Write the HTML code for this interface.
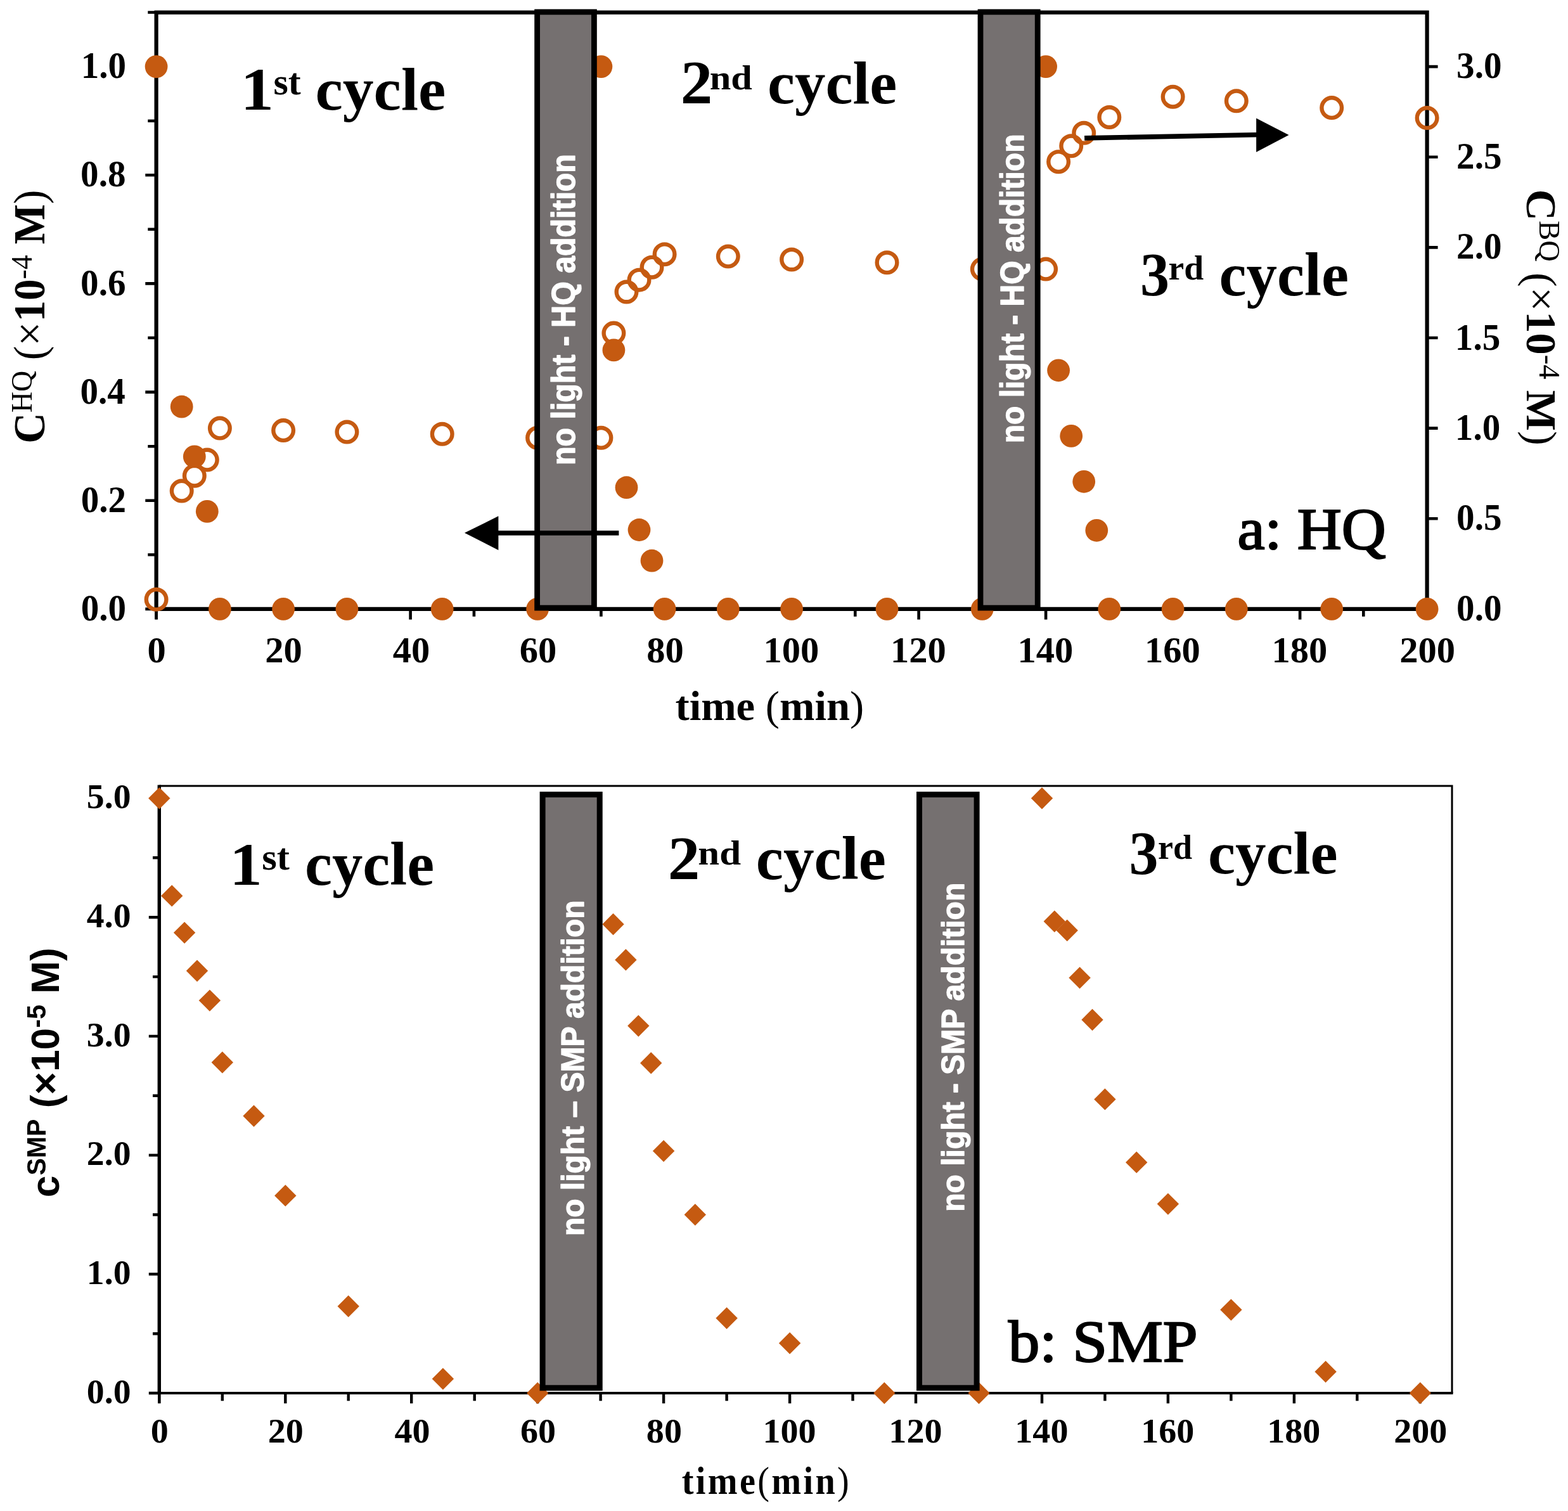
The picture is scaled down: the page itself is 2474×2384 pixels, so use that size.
<!DOCTYPE html>
<html><head><meta charset="utf-8"><title>chart</title><style>html,body{margin:0;padding:0;background:#fff;width:2474px;height:2384px;overflow:hidden}svg{display:block}</style></head><body>
<svg width="2474" height="2384" viewBox="0 0 2474 2384">
<rect width="2474" height="2384" fill="#fff"/>
<path d="M229.3,960.9H246.6M233.3,875.3H246.6M229.3,789.7H246.6M233.3,704.2H246.6M229.3,618.6H246.6M233.3,533.0H246.6M229.3,447.4H246.6M233.3,361.8H246.6M229.3,276.3H246.6M233.3,190.7H246.6M229.3,105.1H246.6M233.3,19.5H246.6M2251.6,960.9H2268.6M2251.6,818.3H2268.6M2251.6,675.6H2268.6M2251.6,533.0H2268.6M2251.6,390.4H2268.6M2251.6,247.7H2268.6M2251.6,105.1H2268.6M246.6,960.9V977.6M346.9,960.9V972.8M447.1,960.9V977.6M547.4,960.9V972.8M647.6,960.9V977.6M747.9,960.9V972.8M848.1,960.9V977.6M948.4,960.9V972.8M1048.6,960.9V977.6M1148.8,960.9V972.8M1249.1,960.9V977.6M1349.3,960.9V972.8M1449.6,960.9V977.6M1549.8,960.9V972.8M1650.1,960.9V977.6M1750.3,960.9V972.8M1850.6,960.9V977.6M1950.8,960.9V972.8M2051.1,960.9V977.6M2151.3,960.9V972.8M2251.6,960.9V977.6" stroke="#000" stroke-width="4.6" fill="none"/>
<path d="M246.6,19.6 H2251.6 V960.9 H246.6 Z" fill="none" stroke="#000" stroke-width="6.2"/>
<path d="M246.6,960.9V977" stroke="#000" stroke-width="4.6"/>
<circle cx="246.6" cy="945.8" r="15.8" fill="none" stroke="#C55A11" stroke-width="6.4"/>
<circle cx="286.7" cy="774.6" r="15.8" fill="none" stroke="#C55A11" stroke-width="6.4"/>
<circle cx="306.8" cy="750.7" r="15.8" fill="none" stroke="#C55A11" stroke-width="6.4"/>
<circle cx="326.8" cy="725.6" r="15.8" fill="none" stroke="#C55A11" stroke-width="6.4"/>
<circle cx="346.9" cy="675.6" r="15.8" fill="none" stroke="#C55A11" stroke-width="6.4"/>
<circle cx="447.1" cy="679.1" r="15.8" fill="none" stroke="#C55A11" stroke-width="6.4"/>
<circle cx="547.4" cy="681.6" r="15.8" fill="none" stroke="#C55A11" stroke-width="6.4"/>
<circle cx="697.7" cy="684.8" r="15.8" fill="none" stroke="#C55A11" stroke-width="6.4"/>
<circle cx="848.1" cy="690.8" r="15.8" fill="none" stroke="#C55A11" stroke-width="6.4"/>
<circle cx="948.4" cy="690.8" r="15.8" fill="none" stroke="#C55A11" stroke-width="6.4"/>
<circle cx="968.4" cy="525.6" r="15.8" fill="none" stroke="#C55A11" stroke-width="6.4"/>
<circle cx="988.5" cy="460.5" r="15.8" fill="none" stroke="#C55A11" stroke-width="6.4"/>
<circle cx="1008.5" cy="441.7" r="15.8" fill="none" stroke="#C55A11" stroke-width="6.4"/>
<circle cx="1028.5" cy="421.7" r="15.8" fill="none" stroke="#C55A11" stroke-width="6.4"/>
<circle cx="1048.6" cy="401.2" r="15.8" fill="none" stroke="#C55A11" stroke-width="6.4"/>
<circle cx="1148.8" cy="404.6" r="15.8" fill="none" stroke="#C55A11" stroke-width="6.4"/>
<circle cx="1249.1" cy="409.5" r="15.8" fill="none" stroke="#C55A11" stroke-width="6.4"/>
<circle cx="1399.5" cy="414.3" r="15.8" fill="none" stroke="#C55A11" stroke-width="6.4"/>
<circle cx="1549.8" cy="424.6" r="15.8" fill="none" stroke="#C55A11" stroke-width="6.4"/>
<circle cx="1650.1" cy="424.6" r="15.8" fill="none" stroke="#C55A11" stroke-width="6.4"/>
<circle cx="1670.1" cy="255.2" r="15.8" fill="none" stroke="#C55A11" stroke-width="6.4"/>
<circle cx="1690.2" cy="230.3" r="15.8" fill="none" stroke="#C55A11" stroke-width="6.4"/>
<circle cx="1710.2" cy="209.8" r="15.8" fill="none" stroke="#C55A11" stroke-width="6.4"/>
<circle cx="1750.3" cy="185.0" r="15.8" fill="none" stroke="#C55A11" stroke-width="6.4"/>
<circle cx="1850.6" cy="152.7" r="15.8" fill="none" stroke="#C55A11" stroke-width="6.4"/>
<circle cx="1950.8" cy="159.3" r="15.8" fill="none" stroke="#C55A11" stroke-width="6.4"/>
<circle cx="2101.2" cy="170.1" r="15.8" fill="none" stroke="#C55A11" stroke-width="6.4"/>
<circle cx="2251.6" cy="186.1" r="15.8" fill="none" stroke="#C55A11" stroke-width="6.4"/>
<circle cx="246.6" cy="105.1" r="17.9" fill="#C55A11"/>
<circle cx="286.7" cy="641.7" r="17.9" fill="#C55A11"/>
<circle cx="306.8" cy="720.4" r="17.9" fill="#C55A11"/>
<circle cx="326.8" cy="806.9" r="17.9" fill="#C55A11"/>
<circle cx="346.9" cy="960.9" r="17.9" fill="#C55A11"/>
<circle cx="447.1" cy="960.9" r="17.9" fill="#C55A11"/>
<circle cx="547.4" cy="960.9" r="17.9" fill="#C55A11"/>
<circle cx="697.7" cy="960.9" r="17.9" fill="#C55A11"/>
<circle cx="848.1" cy="960.9" r="17.9" fill="#C55A11"/>
<circle cx="948.4" cy="105.1" r="17.9" fill="#C55A11"/>
<circle cx="968.4" cy="552.4" r="17.9" fill="#C55A11"/>
<circle cx="988.5" cy="769.2" r="17.9" fill="#C55A11"/>
<circle cx="1008.5" cy="836.0" r="17.9" fill="#C55A11"/>
<circle cx="1028.5" cy="884.7" r="17.9" fill="#C55A11"/>
<circle cx="1048.6" cy="960.9" r="17.9" fill="#C55A11"/>
<circle cx="1148.8" cy="960.9" r="17.9" fill="#C55A11"/>
<circle cx="1249.1" cy="960.9" r="17.9" fill="#C55A11"/>
<circle cx="1399.5" cy="960.9" r="17.9" fill="#C55A11"/>
<circle cx="1549.8" cy="960.9" r="17.9" fill="#C55A11"/>
<circle cx="1650.1" cy="105.1" r="17.9" fill="#C55A11"/>
<circle cx="1670.1" cy="584.3" r="17.9" fill="#C55A11"/>
<circle cx="1690.2" cy="687.9" r="17.9" fill="#C55A11"/>
<circle cx="1710.2" cy="759.8" r="17.9" fill="#C55A11"/>
<circle cx="1730.3" cy="836.8" r="17.9" fill="#C55A11"/>
<circle cx="1750.3" cy="960.9" r="17.9" fill="#C55A11"/>
<circle cx="1850.6" cy="960.9" r="17.9" fill="#C55A11"/>
<circle cx="1950.8" cy="960.9" r="17.9" fill="#C55A11"/>
<circle cx="2101.2" cy="960.9" r="17.9" fill="#C55A11"/>
<circle cx="2251.6" cy="960.9" r="17.9" fill="#C55A11"/>
<rect x="847.6" y="18.9" width="89.8" height="940.2" fill="#757070" stroke="#000" stroke-width="8.8"/>
<rect x="1547.0" y="18.9" width="90.2" height="940.2" fill="#757070" stroke="#000" stroke-width="8.8"/>
<g transform="rotate(-90) translate(-733.915,907) scale(0.483,0.515)" fill="#fff" color="#fff"><text x="0" y="0" font-family="'Liberation Sans', Arial, sans-serif" font-weight="bold" font-size="100" stroke="currentColor" stroke-width="2.6" stroke-linejoin="round">no light - HQ addition</text></g>
<g transform="rotate(-90) translate(-699.299,1614.7) scale(0.48,0.514)" fill="#fff" color="#fff"><text x="0" y="0" font-family="'Liberation Sans', Arial, sans-serif" font-weight="bold" font-size="100" stroke="currentColor" stroke-width="2.6" stroke-linejoin="round">no light - HQ addition</text></g>
<path d="M976.4,841H780" stroke="#000" stroke-width="7.6"/>
<path d="M733,840.8L786.4,814.3V867.9Z" fill="#000"/>
<path d="M1711.1,217.9L1990,212.5" stroke="#000" stroke-width="7.6"/>
<path d="M2033.5,212.9L1982.1,186.6V239.9Z" fill="#000"/>
<g transform="translate(127.686,978.989) scale(0.571,0.581)"><text x="0" y="0" font-family="'Liberation Serif', 'Times New Roman', serif" font-weight="bold" font-size="100">0.0</text></g>
<g transform="translate(127.686,807.829) scale(0.571,0.581)"><text x="0" y="0" font-family="'Liberation Serif', 'Times New Roman', serif" font-weight="bold" font-size="100">0.2</text></g>
<g transform="translate(126.544,636.669) scale(0.571,0.581)"><text x="0" y="0" font-family="'Liberation Serif', 'Times New Roman', serif" font-weight="bold" font-size="100">0.4</text></g>
<g transform="translate(127.115,465.509) scale(0.571,0.581)"><text x="0" y="0" font-family="'Liberation Serif', 'Times New Roman', serif" font-weight="bold" font-size="100">0.6</text></g>
<g transform="translate(127.115,294.349) scale(0.571,0.581)"><text x="0" y="0" font-family="'Liberation Serif', 'Times New Roman', serif" font-weight="bold" font-size="100">0.8</text></g>
<g transform="translate(127.686,123.479) scale(0.571,0.581)"><text x="0" y="0" font-family="'Liberation Serif', 'Times New Roman', serif" font-weight="bold" font-size="100">1.0</text></g>
<g transform="translate(2298.115,978.989) scale(0.571,0.581)"><text x="0" y="0" font-family="'Liberation Serif', 'Times New Roman', serif" font-weight="bold" font-size="100">0.0</text></g>
<g transform="translate(2298.115,836.355) scale(0.571,0.581)"><text x="0" y="0" font-family="'Liberation Serif', 'Times New Roman', serif" font-weight="bold" font-size="100">0.5</text></g>
<g transform="translate(2295.831,694.012) scale(0.571,0.581)"><text x="0" y="0" font-family="'Liberation Serif', 'Times New Roman', serif" font-weight="bold" font-size="100">1.0</text></g>
<g transform="translate(2295.831,551.669) scale(0.571,0.581)"><text x="0" y="0" font-family="'Liberation Serif', 'Times New Roman', serif" font-weight="bold" font-size="100">1.5</text></g>
<g transform="translate(2298.115,408.455) scale(0.571,0.581)"><text x="0" y="0" font-family="'Liberation Serif', 'Times New Roman', serif" font-weight="bold" font-size="100">2.0</text></g>
<g transform="translate(2298.115,266.112) scale(0.571,0.581)"><text x="0" y="0" font-family="'Liberation Serif', 'Times New Roman', serif" font-weight="bold" font-size="100">2.5</text></g>
<g transform="translate(2298.115,123.189) scale(0.571,0.581)"><text x="0" y="0" font-family="'Liberation Serif', 'Times New Roman', serif" font-weight="bold" font-size="100">3.0</text></g>
<g transform="translate(232.48,1044.959) scale(0.585,0.576)"><text x="0" y="0" font-family="'Liberation Serif', 'Times New Roman', serif" font-weight="bold" font-size="100">0</text></g>
<g transform="translate(418.361,1044.959) scale(0.585,0.576)"><text x="0" y="0" font-family="'Liberation Serif', 'Times New Roman', serif" font-weight="bold" font-size="100">20</text></g>
<g transform="translate(619.738,1044.959) scale(0.585,0.576)"><text x="0" y="0" font-family="'Liberation Serif', 'Times New Roman', serif" font-weight="bold" font-size="100">40</text></g>
<g transform="translate(819.653,1044.959) scale(0.585,0.576)"><text x="0" y="0" font-family="'Liberation Serif', 'Times New Roman', serif" font-weight="bold" font-size="100">60</text></g>
<g transform="translate(1020.153,1044.959) scale(0.585,0.576)"><text x="0" y="0" font-family="'Liberation Serif', 'Times New Roman', serif" font-weight="bold" font-size="100">80</text></g>
<g transform="translate(1204.572,1045.247) scale(0.585,0.576)"><text x="0" y="0" font-family="'Liberation Serif', 'Times New Roman', serif" font-weight="bold" font-size="100">100</text></g>
<g transform="translate(1405.072,1045.247) scale(0.585,0.576)"><text x="0" y="0" font-family="'Liberation Serif', 'Times New Roman', serif" font-weight="bold" font-size="100">120</text></g>
<g transform="translate(1605.572,1045.247) scale(0.585,0.576)"><text x="0" y="0" font-family="'Liberation Serif', 'Times New Roman', serif" font-weight="bold" font-size="100">140</text></g>
<g transform="translate(1806.072,1045.247) scale(0.585,0.576)"><text x="0" y="0" font-family="'Liberation Serif', 'Times New Roman', serif" font-weight="bold" font-size="100">160</text></g>
<g transform="translate(2006.572,1045.247) scale(0.585,0.576)"><text x="0" y="0" font-family="'Liberation Serif', 'Times New Roman', serif" font-weight="bold" font-size="100">180</text></g>
<g transform="translate(2208.241,1044.959) scale(0.585,0.576)"><text x="0" y="0" font-family="'Liberation Serif', 'Times New Roman', serif" font-weight="bold" font-size="100">200</text></g>
<g transform="translate(379.489,173) scale(1.051,0.947)" fill="#000" color="#000"><text x="0" y="0" font-family="'Liberation Serif', 'Times New Roman', serif" font-weight="bold" font-size="100">1</text></g>
<g transform="translate(431.613,148.7) scale(0.596,0.602)" fill="#000" color="#000"><text x="0" y="0" font-family="'Liberation Serif', 'Times New Roman', serif" font-weight="bold" font-size="100">st</text></g>
<g transform="translate(497.473,173) scale(0.976,0.957)" fill="#000" color="#000"><text x="0" y="0" font-family="'Liberation Serif', 'Times New Roman', serif" font-weight="bold" font-size="100">cycle</text></g>
<g transform="translate(1073.852,163.1) scale(1.012,0.974)" fill="#000" color="#000"><text x="0" y="0" font-family="'Liberation Serif', 'Times New Roman', serif" font-weight="bold" font-size="100">2</text></g>
<g transform="translate(1119.689,141.2) scale(0.604,0.558)" fill="#000" color="#000"><text x="0" y="0" font-family="'Liberation Serif', 'Times New Roman', serif" font-weight="bold" font-size="100">nd</text></g>
<g transform="translate(1210.992,163) scale(0.969,0.957)" fill="#000" color="#000"><text x="0" y="0" font-family="'Liberation Serif', 'Times New Roman', serif" font-weight="bold" font-size="100">cycle</text></g>
<g transform="translate(1799.016,466) scale(0.921,0.98)" fill="#000" color="#000"><text x="0" y="0" font-family="'Liberation Serif', 'Times New Roman', serif" font-weight="bold" font-size="100">3</text></g>
<g transform="translate(1843.428,441.2) scale(0.557,0.558)" fill="#000" color="#000"><text x="0" y="0" font-family="'Liberation Serif', 'Times New Roman', serif" font-weight="bold" font-size="100">rd</text></g>
<g transform="translate(1923.391,465.9) scale(0.97,0.971)" fill="#000" color="#000"><text x="0" y="0" font-family="'Liberation Serif', 'Times New Roman', serif" font-weight="bold" font-size="100">cycle</text></g>
<g transform="translate(1952.559,865.6) scale(0.97,0.936)" fill="#000" color="#000"><text x="0" y="0" font-family="'Liberation Serif', 'Times New Roman', serif" font-size="100" stroke="#000" stroke-width="2.4">a: HQ</text></g>
<g transform="translate(1065.467,1135.8) scale(0.666,0.649)" fill="#000" color="#000"><text x="0" y="0" font-family="'Liberation Serif', 'Times New Roman', serif" font-weight="bold" font-size="100">time <tspan font-weight="normal">(</tspan>min<tspan font-weight="normal">)</tspan></text></g>
<g transform="rotate(-90) translate(-699.665,69.746) scale(0.673,0.688)" fill="#000" color="#000"><text x="0" y="0" font-family="'Liberation Serif', 'Times New Roman', serif" font-size="100"><tspan font-weight="bold">C</tspan><tspan font-size="68" dy="-29">HQ</tspan><tspan dy="29"> (×</tspan><tspan font-weight="bold">10</tspan><tspan font-size="68" dy="-29">-4</tspan><tspan dy="29" font-weight="bold"> M</tspan>)</text></g>
<g transform="rotate(90) translate(298.778,-2408.82) scale(0.684,0.682)" fill="#000" color="#000"><text x="0" y="0" font-family="'Liberation Serif', 'Times New Roman', serif" font-size="100"><tspan font-weight="bold">C</tspan><tspan font-size="68" dy="-29">BQ</tspan><tspan dy="29"> (×</tspan><tspan font-weight="bold">10</tspan><tspan font-size="68" dy="-29">-4</tspan><tspan dy="29" font-weight="bold"> M</tspan>)</text></g>
<path d="M234.8,2198.0H251.3M241.0,2104.2H251.3M234.8,2010.3H251.3M241.0,1916.5H251.3M234.8,1822.6H251.3M241.0,1728.8H251.3M234.8,1634.9H251.3M241.0,1541.1H251.3M234.8,1447.2H251.3M241.0,1353.3H251.3M251.3,2198.0V2214.2M350.8,2198.0V2210.2M450.3,2198.0V2214.2M549.7,2198.0V2210.2M649.2,2198.0V2214.2M748.7,2198.0V2210.2M848.2,2198.0V2214.2M947.6,2198.0V2210.2M1047.1,2198.0V2214.2M1146.6,2198.0V2210.2M1246.1,2198.0V2214.2M1345.5,2198.0V2210.2M1445.0,2198.0V2214.2M1544.5,2198.0V2210.2M1644.0,2198.0V2214.2M1743.4,2198.0V2210.2M1842.9,2198.0V2214.2M1942.4,2198.0V2210.2M2041.9,2198.0V2214.2M2141.3,2198.0V2210.2M2240.8,2198.0V2214.2" stroke="#000" stroke-width="4.4" fill="none"/>
<path d="M251.3,2198.0V2213.7" stroke="#000" stroke-width="4"/>
<path d="M251.3,1240.0H2291.0V2198.0" fill="none" stroke="#000" stroke-width="3"/>
<path d="M251.3,1238.5V2198.0" fill="none" stroke="#000" stroke-width="5.4"/>
<path d="M248.60000000000002,2198.0H2292.5" fill="none" stroke="#000" stroke-width="4"/>
<path d="M251.3,1242.3L268.5,1259.5L251.3,1276.7L234.1,1259.5Z" fill="#C55A11"/>
<path d="M271.2,1396.2L288.4,1413.4L271.2,1430.6L254.0,1413.4Z" fill="#C55A11"/>
<path d="M291.1,1454.4L308.3,1471.6L291.1,1488.8L273.9,1471.6Z" fill="#C55A11"/>
<path d="M311.0,1514.5L328.2,1531.7L311.0,1548.9L293.8,1531.7Z" fill="#C55A11"/>
<path d="M330.9,1561.4L348.1,1578.6L330.9,1595.8L313.7,1578.6Z" fill="#C55A11"/>
<path d="M350.8,1659.0L368.0,1676.2L350.8,1693.4L333.6,1676.2Z" fill="#C55A11"/>
<path d="M400.5,1743.5L417.7,1760.7L400.5,1777.9L383.3,1760.7Z" fill="#C55A11"/>
<path d="M450.3,1869.2L467.5,1886.4L450.3,1903.6L433.1,1886.4Z" fill="#C55A11"/>
<path d="M549.7,2043.8L566.9,2061.0L549.7,2078.2L532.5,2061.0Z" fill="#C55A11"/>
<path d="M698.9,2158.3L716.1,2175.5L698.9,2192.7L681.7,2175.5Z" fill="#C55A11"/>
<path d="M848.2,2180.8L865.4,2198.0L848.2,2215.2L831.0,2198.0Z" fill="#C55A11"/>
<path d="M967.5,1441.1L984.7,1458.3L967.5,1475.5L950.3,1458.3Z" fill="#C55A11"/>
<path d="M987.4,1497.2L1004.6,1514.4L987.4,1531.6L970.2,1514.4Z" fill="#C55A11"/>
<path d="M1007.3,1601.4L1024.5,1618.6L1007.3,1635.8L990.1,1618.6Z" fill="#C55A11"/>
<path d="M1027.2,1660.1L1044.4,1677.3L1027.2,1694.5L1010.0,1677.3Z" fill="#C55A11"/>
<path d="M1047.1,1798.8L1064.3,1816.0L1047.1,1833.2L1029.9,1816.0Z" fill="#C55A11"/>
<path d="M1096.8,1899.2L1114.0,1916.5L1096.8,1933.7L1079.6,1916.5Z" fill="#C55A11"/>
<path d="M1146.6,2062.5L1163.8,2079.7L1146.6,2096.9L1129.4,2079.7Z" fill="#C55A11"/>
<path d="M1246.1,2102.0L1263.3,2119.2L1246.1,2136.4L1228.9,2119.2Z" fill="#C55A11"/>
<path d="M1395.3,2180.8L1412.5,2198.0L1395.3,2215.2L1378.1,2198.0Z" fill="#C55A11"/>
<path d="M1544.5,2180.8L1561.7,2198.0L1544.5,2215.2L1527.3,2198.0Z" fill="#C55A11"/>
<path d="M1644.0,1242.3L1661.2,1259.5L1644.0,1276.7L1626.8,1259.5Z" fill="#C55A11"/>
<path d="M1663.8,1436.6L1681.0,1453.8L1663.8,1471.0L1646.6,1453.8Z" fill="#C55A11"/>
<path d="M1683.7,1450.8L1700.9,1468.0L1683.7,1485.2L1666.5,1468.0Z" fill="#C55A11"/>
<path d="M1703.6,1525.5L1720.8,1542.7L1703.6,1559.9L1686.4,1542.7Z" fill="#C55A11"/>
<path d="M1723.5,1591.8L1740.7,1609.0L1723.5,1626.2L1706.3,1609.0Z" fill="#C55A11"/>
<path d="M1743.4,1717.2L1760.6,1734.4L1743.4,1751.6L1726.2,1734.4Z" fill="#C55A11"/>
<path d="M1793.2,1816.7L1810.4,1833.9L1793.2,1851.1L1776.0,1833.9Z" fill="#C55A11"/>
<path d="M1842.9,1882.4L1860.1,1899.6L1842.9,1916.8L1825.7,1899.6Z" fill="#C55A11"/>
<path d="M1942.4,2049.4L1959.6,2066.6L1942.4,2083.8L1925.2,2066.6Z" fill="#C55A11"/>
<path d="M2091.6,2147.0L2108.8,2164.2L2091.6,2181.4L2074.4,2164.2Z" fill="#C55A11"/>
<path d="M2240.8,2180.8L2258.0,2198.0L2240.8,2215.2L2223.6,2198.0Z" fill="#C55A11"/>
<rect x="856.1" y="1253.6" width="90.1" height="936.2" fill="#757070" stroke="#000" stroke-width="9"/>
<rect x="1450.5" y="1253.6" width="90.6" height="936.2" fill="#757070" stroke="#000" stroke-width="9"/>
<g transform="rotate(-90) translate(-1950.098,920.7) scale(0.48,0.507)" fill="#fff" color="#fff"><text x="0" y="0" font-family="'Liberation Sans', Arial, sans-serif" font-weight="bold" font-size="100" stroke="currentColor" stroke-width="2.6" stroke-linejoin="round">no light – SMP addition</text></g>
<g transform="rotate(-90) translate(-1911.699,1520.5) scale(0.48,0.507)" fill="#fff" color="#fff"><text x="0" y="0" font-family="'Liberation Sans', Arial, sans-serif" font-weight="bold" font-size="100" stroke="currentColor" stroke-width="2.6" stroke-linejoin="round">no light - SMP addition</text></g>
<g transform="translate(136.871,2213.754) scale(0.557,0.548)"><text x="0" y="0" font-family="'Liberation Serif', 'Times New Roman', serif" font-weight="bold" font-size="100">0.0</text></g>
<g transform="translate(136.871,2026.328) scale(0.557,0.548)"><text x="0" y="0" font-family="'Liberation Serif', 'Times New Roman', serif" font-weight="bold" font-size="100">1.0</text></g>
<g transform="translate(136.871,1838.354) scale(0.557,0.548)"><text x="0" y="0" font-family="'Liberation Serif', 'Times New Roman', serif" font-weight="bold" font-size="100">2.0</text></g>
<g transform="translate(136.871,1650.654) scale(0.557,0.548)"><text x="0" y="0" font-family="'Liberation Serif', 'Times New Roman', serif" font-weight="bold" font-size="100">3.0</text></g>
<g transform="translate(136.871,1462.954) scale(0.557,0.548)"><text x="0" y="0" font-family="'Liberation Serif', 'Times New Roman', serif" font-weight="bold" font-size="100">4.0</text></g>
<g transform="translate(136.871,1275.254) scale(0.557,0.548)"><text x="0" y="0" font-family="'Liberation Serif', 'Times New Roman', serif" font-weight="bold" font-size="100">5.0</text></g>
<g transform="translate(237.786,2276.143) scale(0.561,0.554)"><text x="0" y="0" font-family="'Liberation Serif', 'Times New Roman', serif" font-weight="bold" font-size="100">0</text></g>
<g transform="translate(422.722,2276.143) scale(0.561,0.554)"><text x="0" y="0" font-family="'Liberation Serif', 'Times New Roman', serif" font-weight="bold" font-size="100">20</text></g>
<g transform="translate(622.513,2276.143) scale(0.561,0.554)"><text x="0" y="0" font-family="'Liberation Serif', 'Times New Roman', serif" font-weight="bold" font-size="100">40</text></g>
<g transform="translate(820.902,2276.143) scale(0.561,0.554)"><text x="0" y="0" font-family="'Liberation Serif', 'Times New Roman', serif" font-weight="bold" font-size="100">60</text></g>
<g transform="translate(1019.852,2276.143) scale(0.561,0.554)"><text x="0" y="0" font-family="'Liberation Serif', 'Times New Roman', serif" font-weight="bold" font-size="100">80</text></g>
<g transform="translate(1203.387,2276.419) scale(0.561,0.554)"><text x="0" y="0" font-family="'Liberation Serif', 'Times New Roman', serif" font-weight="bold" font-size="100">100</text></g>
<g transform="translate(1402.337,2276.419) scale(0.561,0.554)"><text x="0" y="0" font-family="'Liberation Serif', 'Times New Roman', serif" font-weight="bold" font-size="100">120</text></g>
<g transform="translate(1601.287,2276.419) scale(0.561,0.554)"><text x="0" y="0" font-family="'Liberation Serif', 'Times New Roman', serif" font-weight="bold" font-size="100">140</text></g>
<g transform="translate(1800.237,2276.419) scale(0.561,0.554)"><text x="0" y="0" font-family="'Liberation Serif', 'Times New Roman', serif" font-weight="bold" font-size="100">160</text></g>
<g transform="translate(1999.187,2276.419) scale(0.561,0.554)"><text x="0" y="0" font-family="'Liberation Serif', 'Times New Roman', serif" font-weight="bold" font-size="100">180</text></g>
<g transform="translate(2199.258,2276.143) scale(0.561,0.554)"><text x="0" y="0" font-family="'Liberation Serif', 'Times New Roman', serif" font-weight="bold" font-size="100">200</text></g>
<g transform="translate(362.162,1396.3) scale(1.03,0.95)" fill="#000" color="#000"><text x="0" y="0" font-family="'Liberation Serif', 'Times New Roman', serif" font-weight="bold" font-size="100">1</text></g>
<g transform="translate(413.291,1371.5) scale(0.603,0.602)" fill="#000" color="#000"><text x="0" y="0" font-family="'Liberation Serif', 'Times New Roman', serif" font-weight="bold" font-size="100">st</text></g>
<g transform="translate(481.098,1396.3) scale(0.967,0.971)" fill="#000" color="#000"><text x="0" y="0" font-family="'Liberation Serif', 'Times New Roman', serif" font-weight="bold" font-size="100">cycle</text></g>
<g transform="translate(1053.852,1386.5) scale(1.012,0.977)" fill="#000" color="#000"><text x="0" y="0" font-family="'Liberation Serif', 'Times New Roman', serif" font-weight="bold" font-size="100">2</text></g>
<g transform="translate(1101.372,1364) scale(0.609,0.558)" fill="#000" color="#000"><text x="0" y="0" font-family="'Liberation Serif', 'Times New Roman', serif" font-weight="bold" font-size="100">nd</text></g>
<g transform="translate(1192.785,1386.5) scale(0.972,0.974)" fill="#000" color="#000"><text x="0" y="0" font-family="'Liberation Serif', 'Times New Roman', serif" font-weight="bold" font-size="100">cycle</text></g>
<g transform="translate(1781.416,1378.5) scale(0.921,0.975)" fill="#000" color="#000"><text x="0" y="0" font-family="'Liberation Serif', 'Times New Roman', serif" font-weight="bold" font-size="100">3</text></g>
<g transform="translate(1826.878,1354.5) scale(0.541,0.558)" fill="#000" color="#000"><text x="0" y="0" font-family="'Liberation Serif', 'Times New Roman', serif" font-weight="bold" font-size="100">rd</text></g>
<g transform="translate(1905.886,1377.8) scale(0.971,0.949)" fill="#000" color="#000"><text x="0" y="0" font-family="'Liberation Serif', 'Times New Roman', serif" font-weight="bold" font-size="100">cycle</text></g>
<g transform="translate(1590.886,2148.4) scale(0.986,0.939)" fill="#000" color="#000"><text x="0" y="0" font-family="'Liberation Serif', 'Times New Roman', serif" font-size="100" stroke="#000" stroke-width="2.4">b: SMP</text></g>
<g transform="translate(1075.675,2356.6) scale(0.562,0.61)" fill="#000" color="#000"><text x="0" y="0" font-family="'Liberation Serif', 'Times New Roman', serif" font-weight="bold" font-size="100" letter-spacing="6">time<tspan font-weight="normal">(</tspan>min<tspan font-weight="normal">)</tspan></text></g>
<g transform="rotate(-90) translate(-1889.193,93.386) scale(0.623,0.634)" fill="#000" color="#000"><text x="0" y="0" font-family="'Liberation Sans', Arial, sans-serif" font-weight="bold" font-size="100">c<tspan font-size="66" dy="-33">SMP</tspan><tspan dy="33"> (×10</tspan><tspan font-size="66" dy="-33">-5</tspan><tspan dy="33"> M)</tspan></text></g>
</svg>
</body></html>
